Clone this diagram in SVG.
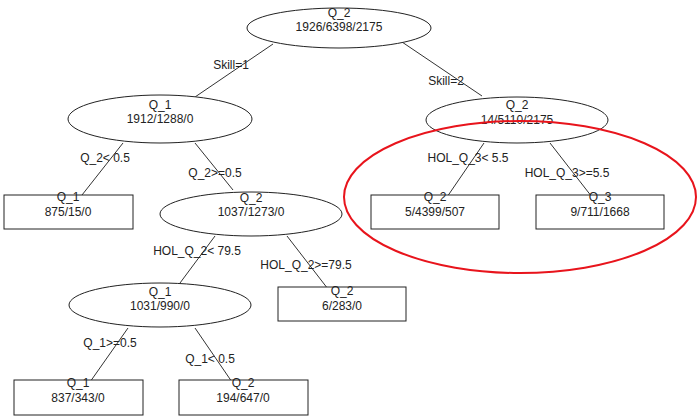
<svg xmlns="http://www.w3.org/2000/svg" width="697" height="419" viewBox="0 0 697 419">
<style>
text{font-family:"Liberation Sans",Arial,sans-serif;font-size:12px;fill:#222;text-anchor:middle}
.n{fill:#fff;stroke:#222;stroke-width:1}
.e line{stroke:#333;stroke-width:1}
.lbl{text-anchor:middle}
</style>
<rect width="697" height="419" fill="#fff"/>
<g id="edges" class="e">
<line x1="273" y1="44" x2="195" y2="97"/>
<line x1="402" y1="42" x2="482" y2="96"/>
<line x1="123" y1="143" x2="82" y2="195"/>
<line x1="195" y1="143" x2="233" y2="190"/>
<line x1="484" y1="143" x2="447" y2="197"/>
<line x1="550" y1="143" x2="592" y2="197"/>
<line x1="215" y1="236" x2="180" y2="283"/>
<line x1="287" y1="236" x2="328" y2="289"/>
<line x1="128" y1="328" x2="90" y2="382"/>
<line x1="195" y1="328" x2="232" y2="382"/>
<text x="231" y="69">Skill=1</text>
<text x="446" y="85">Skill=2</text>
<text x="105" y="162">Q_2&lt; 0.5</text>
<text x="215" y="177">Q_2&gt;=0.5</text>
<text x="468" y="162">HOL_Q_3&lt; 5.5</text>
<text x="567" y="177">HOL_Q_3&gt;=5.5</text>
<text x="197" y="255">HOL_Q_2&lt; 79.5</text>
<text x="306" y="269">HOL_Q_2&gt;=79.5</text>
<text x="110" y="347">Q_1&gt;=0.5</text>
<text x="210" y="363">Q_1&lt; 0.5</text>
</g>
<g id="root"><ellipse class="n" cx="339" cy="28" rx="92" ry="20"/><text x="339" y="17">Q_2</text><text x="339" y="31">1926/6398/2175</text></g>
<g id="n_q1"><ellipse class="n" cx="160" cy="119" rx="92" ry="24"/><text x="160" y="109">Q_1</text><text x="160" y="123">1912/1288/0</text></g>
<g id="n_q2r"><ellipse class="n" cx="517" cy="120" rx="91" ry="23"/><text x="517" y="109">Q_2</text><text x="517" y="124">14/5110/2175</text></g>
<g id="leaf1"><rect class="n" x="4" y="195" width="129" height="34"/><text x="68" y="201">Q_1</text><text x="68" y="216">875/15/0</text></g>
<g id="n_q2m"><ellipse class="n" cx="251" cy="214" rx="91" ry="22"/><text x="251" y="202">Q_2</text><text x="251" y="216">1037/1273/0</text></g>
<g id="leaf_r1"><rect class="n" x="371" y="195" width="128" height="34"/><text x="435" y="201">Q_2</text><text x="435" y="216">5/4399/507</text></g>
<g id="leaf_r2"><rect class="n" x="536" y="195" width="128" height="34"/><text x="600" y="201">Q_3</text><text x="600" y="216">9/711/1668</text></g>
<g id="n_q1b"><ellipse class="n" cx="160" cy="305" rx="91" ry="22"/><text x="160" y="296">Q_1</text><text x="160" y="310">1031/990/0</text></g>
<g id="leaf_m"><rect class="n" x="278" y="287" width="128" height="34"/><text x="342" y="295">Q_2</text><text x="342" y="310">6/283/0</text></g>
<g id="leaf_l"><rect class="n" x="14" y="380" width="129" height="35"/><text x="78" y="387">Q_1</text><text x="78" y="402">837/343/0</text></g>
<g id="leaf_l2"><rect class="n" x="179" y="380" width="129" height="35"/><text x="243" y="387">Q_2</text><text x="243" y="402">194/647/0</text></g>
<g id="highlight"><ellipse cx="520" cy="197" rx="176" ry="76" fill="none" stroke="#e8141c" stroke-width="2"/></g>
</svg>
